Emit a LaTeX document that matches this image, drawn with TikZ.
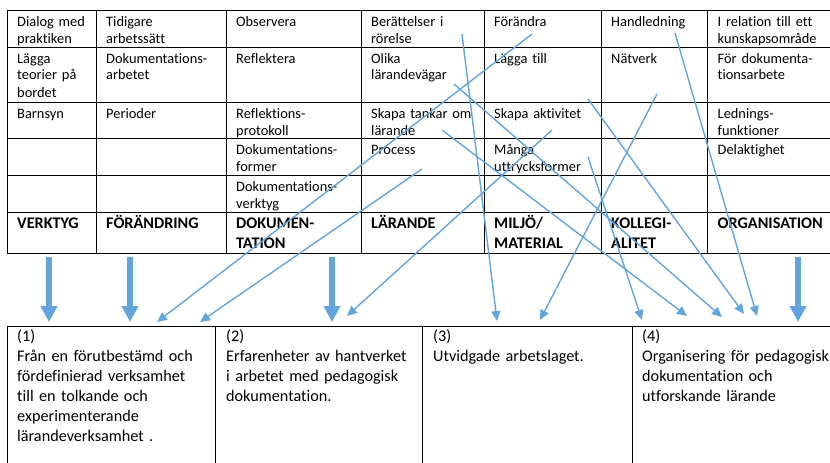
\documentclass[tikz,border=0pt]{standalone}
\usepackage{fontspec}
\setmainfont{Carlito}[Ligatures=NoCommon]
\usetikzlibrary{arrows.meta}
\definecolor{arrowblue}{RGB}{98,165,220}
\begin{document}
\begin{tikzpicture}[x=1pt,y=-1pt,
  rule/.style={line width=0.9pt, black},
  cell/.style={anchor=base west, inner sep=0pt, text width=160pt, align=left,
    font=\fontsize{14.4}{17}\selectfont},
  head/.style={cell, font=\fontsize{16.2}{20}\selectfont\bfseries},
  boxtext/.style={anchor=base west, inner sep=0pt, text width=260pt, align=left,
    font=\fontsize{16.2}{20}\selectfont},
  link/.style={draw=arrowblue, line width=1.4pt, -{Triangle[length=10pt,width=9pt]}},
  bigarrow/.style={draw=arrowblue, line width=6pt, -{Triangle[length=16pt,width=16pt]}},
]
\useasboundingbox (0,0) rectangle (830,463);

% ---- table grid ----
\foreach \y in {10,47,102,138.5,175,212,253}
  \draw[rule] (7,\y) -- (830,\y);
\foreach \x in {7,96,226,361,484,601,707.5}
  \draw[rule] (\x,10) -- (\x,253);

% ---- table cells (column x = line + 10, first baseline = row top + 16) ----
% column 1
\node[cell] (c11) at (17,26.5)  {Dialog med\\praktiken};
\node[cell] (c12) at (17,63)    {Lägga\\teorier på\\bordet};
\node[cell] (c13) at (17,118)   {Barnsyn};
\node[head] (c16) at (17,228)   {VERKTYG};
% column 2
\node[cell] (c21) at (106,26.5) {Tidigare\\arbetssätt};
\node[cell] (c22) at (106,63)   {Dokumentations-\\arbetet};
\node[cell] (c23) at (106,118)  {Perioder};
\node[head] (c26) at (106,228)  {FÖRÄNDRING};
% column 3
\node[cell] (c31) at (236,26.5) {Observera};
\node[cell] (c32) at (236,63)   {Reflektera};
\node[cell] (c33) at (236,118)  {Reflektions-\\protokoll};
\node[cell] (c34) at (236,154)  {Dokumentations-\\former};
\node[cell] (c35) at (236,191)  {Dokumentations-\\verktyg};
\node[head] (c36) at (236,228)  {DOKUMEN-\\TATION};
% column 4
\node[cell] (c41) at (371,26.5) {Berättelser i\\rörelse};
\node[cell] (c42) at (371,63)   {Olika\\lärandevägar};
\node[cell] (c43) at (371,118)  {Skapa tankar om\\lärande};
\node[cell] (c44) at (371,154)  {Process};
\node[head] (c46) at (371,228)  {LÄRANDE};
% column 5
\node[cell] (c51) at (494,26.5) {Förändra};
\node[cell] (c52) at (494,63)   {Lägga till};
\node[cell] (c53) at (494,118)  {Skapa aktivitet};
\node[cell] (c54) at (494,154)  {Många\\uttrycksformer};
\node[head] (c56) at (494,228)  {MILJÖ/\\MATERIAL};
% column 6
\node[cell] (c61) at (611,26.5) {Handledning};
\node[cell] (c62) at (611,63)   {Nätverk};
\node[head] (c66) at (611,228)  {KOLLEGI-\\ALITET};
% column 7
\node[cell] (c71) at (717.5,26.5) {I relation till ett\\kunskapsområde};
\node[cell] (c72) at (717.5,63)   {För dokumenta-\\tionsarbete};
\node[cell] (c73) at (717.5,118)  {Lednings-\\funktioner};
\node[cell] (c74) at (717.5,154)  {Delaktighet};
\node[head] (c76) at (717.5,228)  {ORGANISATION};

% ---- result boxes ----
\draw[rule] (7,326) -- (830,326);
\foreach \x in {7,215,422,632}
  \draw[rule] (\x,326) -- (\x,463);

\node[boxtext] (b1) at (17,341)  {(1)\\Från en förutbestämd och\\fördefinierad verksamhet\\till en tolkande och\\experimenterande\\lärandeverksamhet .};
\node[boxtext] (b2) at (226,341) {(2)\\Erfarenheter av hantverket\\i arbetet med pedagogisk\\dokumentation.};
\node[boxtext] (b3) at (433,341) {(3)\\Utvidgade arbetslaget.};
\node[boxtext] (b4) at (642,341) {(4)\\Organisering för pedagogisk\\dokumentation och\\utforskande lärande};

% ---- broad arrows straight down from the columns ----
\foreach \n/\x in {v1/49, v2/130, v3/332, v4/798}{
  \coordinate (\n s) at (\x,257);
  \coordinate (\n e) at (\x,322);
  \draw[bigarrow] (\n s) -- (\n e);
}

% ---- thin links from single items to the results ----
\coordinate (s1) at (532,34);   \coordinate (e1) at (157,322);
\coordinate (s2) at (422,169);  \coordinate (e2) at (200,322);
\coordinate (s3) at (552,130);  \coordinate (e3) at (347,316);
\coordinate (s4) at (462,34);   \coordinate (e4) at (497,321);
\coordinate (s5) at (657,94);   \coordinate (e5) at (540,320);
\coordinate (s6) at (588,157);  \coordinate (e6) at (642,320);
\coordinate (s7) at (442,130);  \coordinate (e7) at (687,316);
\coordinate (s8) at (454,84);   \coordinate (e8) at (722,317);
\coordinate (s9) at (588,99);   \coordinate (e9) at (744,314);
\coordinate (s10) at (675,33);  \coordinate (e10) at (757,316);
\foreach \i in {1,...,10}
  \draw[link] (s\i) -- (e\i);
\end{tikzpicture}
\end{document}
